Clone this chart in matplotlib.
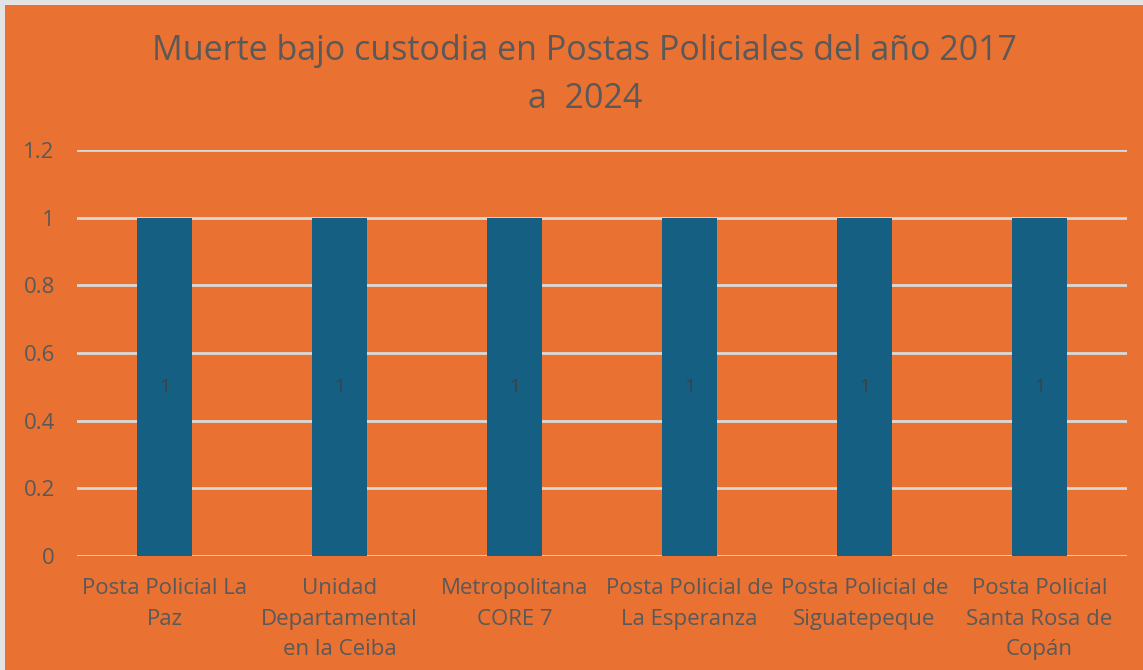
import matplotlib.pyplot as plt
from matplotlib.patches import Rectangle

# datos
categorias = ['Posta Policial La\nPaz', 'Unidad\nDepartamental\nen la Ceiba',
              'Metropolitana\nCORE 7', 'Posta Policial de\nLa Esperanza',
              'Posta Policial de\nSiguatepeque', 'Posta Policial\nSanta Rosa de\nCopán']
muertes = [1, 1, 1, 1, 1, 1]
yticks = [0, 0.2, 0.4, 0.6, 0.8, 1, 1.2]
ytick_labels = ['0', '0.2', '0.4', '0.6', '0.8', '1', '1.2']

naranja = '#E97132'
azul = '#156082'
gris = '#595959'

plt.rcParams['font.family'] = ['Open Sans', 'DejaVu Sans']

fig = plt.figure(figsize=(11.43, 6.7), dpi=100)
fig.patch.set_facecolor('#E3E3E3')
# area del grafico (borde gris claro arriba e izquierda)
fig.patches.append(Rectangle((5 / 1143, 0), 1, 1 - 5 / 670, transform=fig.transFigure,
                             facecolor=naranja, edgecolor='none', zorder=-10))

ax = fig.add_axes([77 / 1143, 1 - 556 / 670, 1050 / 1143, 406 / 670])
ax.set_facecolor('none')

x = range(len(categorias))
barras = ax.bar(x, muertes, width=0.315, color=azul, zorder=3)
for i, v in enumerate(muertes):
    ax.text(i, v / 2, str(v), ha='center', va='center', fontsize=14, color='#404040', zorder=4)

ax.set_xlim(-0.5, len(categorias) - 0.5)
ax.set_ylim(0, 1.2)
ax.set_yticks(yticks)
ax.set_yticklabels(ytick_labels)
ax.set_xticks(list(x))
ax.set_xticklabels(categorias, linespacing=1.58)
ax.tick_params(axis='both', length=0, labelsize=16, colors=gris)
ax.tick_params(axis='y', pad=16)
ax.tick_params(axis='x', pad=16)
ax.grid(axis='y', color='#D9D9D9', linewidth=2, zorder=0)
for s in ax.spines.values():
    s.set_visible(False)

fig.text(585 / 1143, 1 - 75 / 670, 'Muerte bajo custodia en Postas Policiales del año 2017\na  2024',
         ha='center', va='center', fontsize=24.5, color=gris, linespacing=1.55)

fig.savefig('out.png', dpi=100, facecolor=fig.get_facecolor())
